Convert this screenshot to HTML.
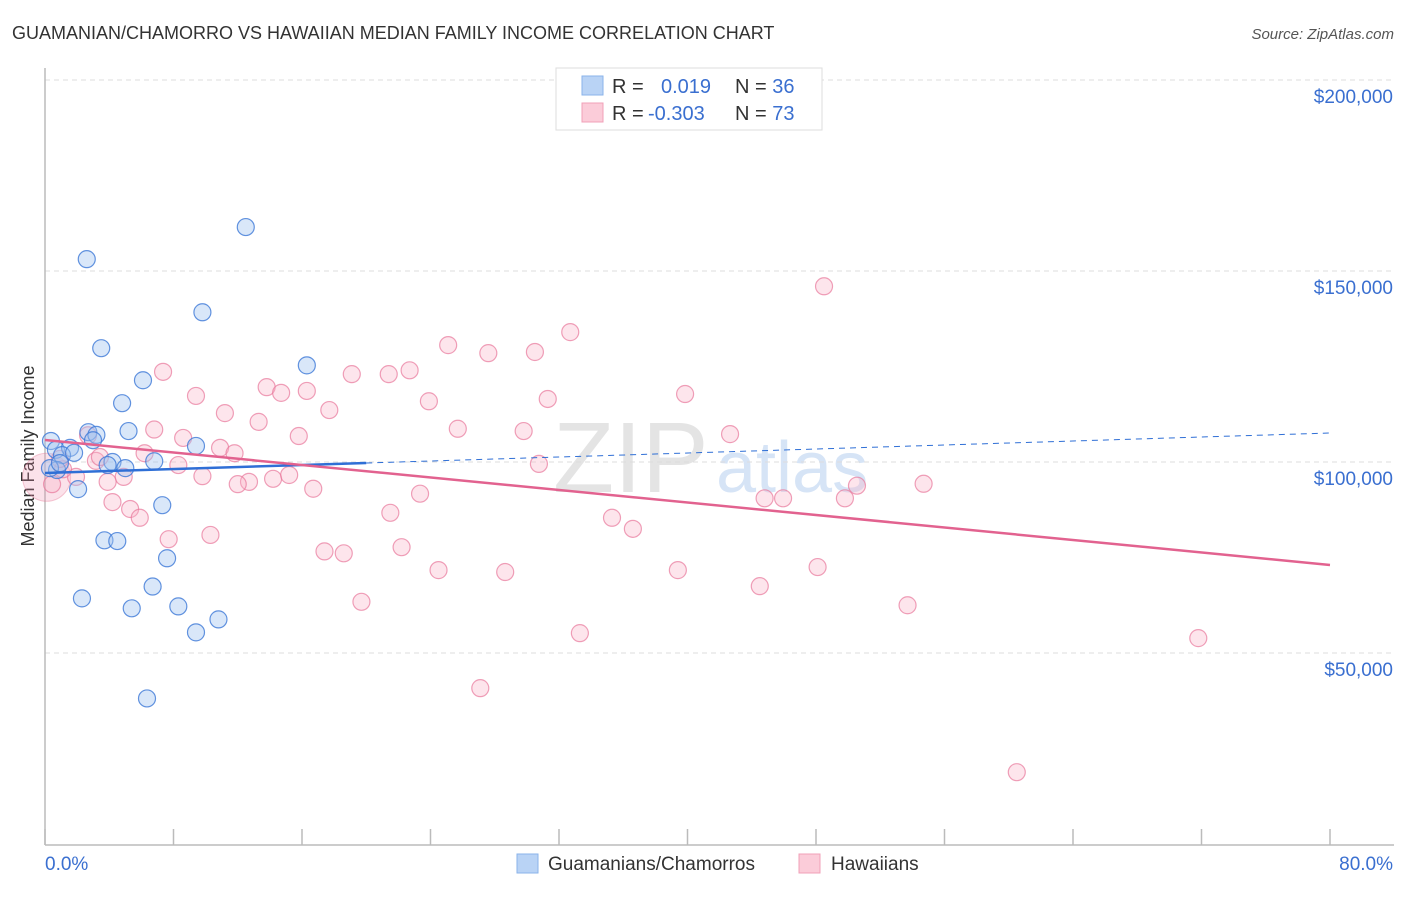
<!DOCTYPE html>
<html><head><meta charset="utf-8"><style>
body{margin:0;background:#fff;font-family:"Liberation Sans",Arial,sans-serif}
svg text{font-family:"Liberation Sans",Arial,sans-serif}
</style></head><body>
<svg id="chart" width="1406" height="892">
<text x="12" y="39" font-size="18" fill="#333">GUAMANIAN/CHAMORRO VS HAWAIIAN MEDIAN FAMILY INCOME CORRELATION CHART</text>
<text x="1394" y="39" font-size="15" fill="#555" font-style="italic" text-anchor="end">Source: ZipAtlas.com</text>
<text x="0" y="0" transform="translate(34,456) rotate(-90)" font-size="18" fill="#333" text-anchor="middle">Median Family Income</text>
<text x="553" y="492" font-size="100" fill="#e4e4e4" font-family="Liberation Serif">ZIP</text>
<text x="716" y="492" font-size="72" fill="#d6e4f6">atlas</text>
<g id="grid"></g><g id="axes"></g><g id="trends"></g><g id="pts"></g>
<g>
<rect x="556" y="68" width="266" height="62" fill="#fff" stroke="#ddd"/>
<rect x="582" y="76" width="21" height="19" fill="#b9d3f5" stroke="#8ab3ea"/>
<rect x="582" y="103" width="21" height="19" fill="#fbccd9" stroke="#f0a0b8"/>
<text x="612" y="93" font-size="20" fill="#333">R = <tspan x="661" fill="#3a6fd0">0.019</tspan><tspan x="735" fill="#333">N = </tspan><tspan fill="#3a6fd0">36</tspan></text>
<text x="612" y="120" font-size="20" fill="#333">R = <tspan x="648" fill="#3a6fd0">-0.303</tspan><tspan x="735" fill="#333">N = </tspan><tspan fill="#3a6fd0">73</tspan></text>
</g>
<g>
<rect x="517" y="854" width="21" height="19" fill="#b9d3f5" stroke="#8ab3ea"/>
<text x="548" y="870" font-size="19" fill="#333">Guamanians/Chamorros</text>
<rect x="799" y="854" width="21" height="19" fill="#fbccd9" stroke="#f0a0b8"/>
<text x="831" y="870" font-size="19" fill="#333">Hawaiians</text>
</g>
</svg>
<script>
const yTicks=[50000,100000,150000,200000];
const yTickLabels=["$50,000","$100,000","$150,000","$200,000"];
const xTicks=[0,8,16,24,32,40,48,56,64,72,80];
const xEndLabels=["0.0%","80.0%"];
const blueX=[12.5,2.6,9.8,3.5,16.3,6.1,4.8,5.2,2.7,3.2,2.99,9.4,0.37,0.68,1.56,1.06,1.81,4.2,6.8,3.9,5.0,0.75,2.06,7.3,3.7,4.5,7.6,6.7,2.3,8.3,5.4,10.8,9.4,6.35,0.31,0.93];
const blueY=[161500,153100,139200,129800,125300,121400,115400,108100,107800,107100,105700,104200,105500,103200,103700,101800,102400,100000,100200,99200,98400,97900,92900,88700,79500,79300,74800,67400,64300,62200,61700,58800,55400,38100,98400,99700];
const pinkX=[7.35,9.4,11.2,13.3,13.8,14.7,16.3,15.8,17.7,19.1,21.4,22.7,23.9,25.1,25.7,27.6,30.5,32.7,31.3,29.8,30.75,39.85,42.65,48.5,6.8,8.6,6.2,8.3,9.8,10.9,11.8,12.7,14.2,15.2,12.0,16.7,21.5,23.35,17.4,18.6,22.2,24.5,28.65,35.3,36.6,39.4,48.1,44.5,44.8,45.95,49.8,50.55,54.7,53.7,71.8,60.5,33.3,27.1,19.7,5.3,5.9,4.2,7.7,10.3,4.9,3.9,3.17,2.68,1.93,1.12,0.44,3.42,0.93];
const pinkY=[123600,117300,112800,110500,119600,118100,118600,106800,113600,123000,123000,124000,115900,130600,108700,128500,128800,134000,116500,108100,99500,117800,107300,146000,108500,106300,102300,99200,96300,103700,102300,94800,95600,96600,94200,93000,86700,91700,76600,76100,77700,71700,71200,85400,82500,71700,72500,67500,90500,90500,90500,93800,94300,62500,53900,18800,55200,40800,63400,87700,85400,89500,79800,80900,96100,94800,100300,107000,96100,98100,94200,101300,100800];
const trendIntercept=[97120,105760];
const trendSlope=[(107590-97120)/80,(73040-105760)/80];
const blueSolidEnd=20;
const X=p=>45+p*16.0625, Y=v=>844-v*191/50000;
const NS="http://www.w3.org/2000/svg";
function mk(t,a,parent){const e=document.createElementNS(NS,t);for(const k in a)e.setAttribute(k,a[k]);document.getElementById(parent).appendChild(e);return e;}
yTicks.forEach((v,i)=>{
 const l=mk('line',{x1:45,x2:1394,y1:Y(v),y2:Y(v),stroke:'#ddd','stroke-dasharray':'5,4'},'grid');
 
 
 const t=mk('text',{x:1393,y:Y(v)+23,'font-size':19,fill:'#3a6fd0','text-anchor':'end'},'grid');
 t.textContent=yTickLabels[i];
 
 
});
{const a=mk('line',{x1:45,x2:45,y1:68,y2:845,stroke:'#bbb','stroke-width':1.5},'axes');


const b=mk('line',{x1:45,x2:1394,y1:845,y2:845,stroke:'#bbb','stroke-width':1.5},'axes');

}
xTicks.forEach(p=>{const t=mk('line',{x1:X(p),x2:X(p),y1:829,y2:845,stroke:'#bbb','stroke-width':1.5},'axes');

});
[[0,45,'start'],[80,1393,'end']].forEach((d,i)=>{const t=mk('text',{x:d[1],y:870,'font-size':19,fill:'#3a6fd0','text-anchor':d[2]},'axes');t.textContent=xEndLabels[i];

});
function addPts(xs,ys,fill,stroke,name){xs.forEach((x,i)=>{const c=mk('circle',{cx:X(x),cy:Y(ys[i]),r:8.5,fill:fill,stroke:stroke,'stroke-width':1.2},'pts');

});}
{const big=mk('circle',{cx:X(0.1),cy:Y(96000),r:24,fill:'rgba(240,140,170,0.25)',stroke:'rgba(230,120,150,0.4)'},'pts');

}
addPts(pinkX,pinkY,'rgba(248,180,200,0.35)','rgba(232,120,155,0.7)','hawaiian-point');
addPts(blueX,blueY,'rgba(160,195,240,0.4)','rgba(60,120,215,0.8)','guamanian-point');
const tv=(s,p)=>trendIntercept[s]+trendSlope[s]*p;
{const a=mk('line',{x1:X(0),y1:Y(tv(0,0)),x2:X(blueSolidEnd),y2:Y(tv(0,blueSolidEnd)),stroke:'#2f6fd6','stroke-width':2.5},'trends');


const b=mk('line',{x1:X(blueSolidEnd),y1:Y(tv(0,blueSolidEnd)),x2:X(80),y2:Y(tv(0,80)),stroke:'#2f6fd6','stroke-width':1,'stroke-dasharray':'6,5'},'trends');


const c=mk('line',{x1:X(0),y1:Y(tv(1,0)),x2:X(80),y2:Y(tv(1,80)),stroke:'#e2628f','stroke-width':2.5},'trends');

}
document.getElementById('chart').appendChild(document.getElementById('trends'));
</script>
</body></html>
